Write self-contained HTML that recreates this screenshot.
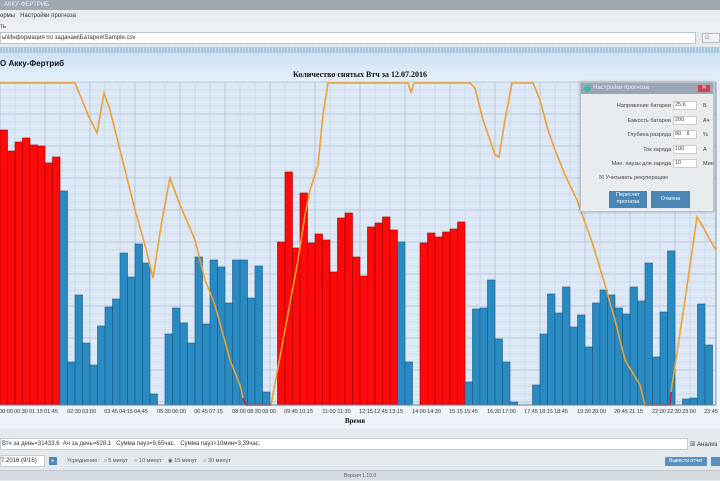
<!DOCTYPE html>
<html><head><meta charset="utf-8">
<style>
*{margin:0;padding:0;box-sizing:border-box}
body{width:720px;height:480px;overflow:hidden;background:#e4e9ee;font-family:"Liberation Sans",sans-serif;font-size:6px;color:#333;position:relative}
.abs{position:absolute}
</style></head><body>
<div class="abs" style="left:0;top:0;width:720px;height:10px;background:#9ea8b0;color:#eef;font-size:6px;line-height:10px;padding-left:4px">АККУ-ФЕРТРИБ</div>
<div class="abs" style="left:0;top:10px;width:720px;height:12px;background:#e9edf0;line-height:12px;padding-left:0">ормы &nbsp;&nbsp;Настройки прогноза</div>
<div class="abs" style="left:0;top:22px;width:720px;height:10px;background:#eef1f4;line-height:10px">ть</div>
<div class="abs" style="left:0;top:32px;width:696px;height:12px;background:#fff;border:1px solid #bcc5cc;line-height:10px;padding-left:1px">ы\Информация по задачам\Батарея\Sample.csv</div>
<div class="abs" style="left:702px;top:33px;width:18px;height:10px;background:#f0f2f4;border:1px solid #bbb;line-height:8px;font-size:7px">&nbsp;⌂</div>
<div class="abs" style="left:0;top:47px;width:720px;height:6px;background:repeating-linear-gradient(90deg,#a9c6df 0 2px,#c5daea 2px 3px)"></div>
<div class="abs" style="left:0;top:53px;width:720px;height:376px;background:linear-gradient(#cfe2f5,#e6f0fa 30px,#eef4fa)"></div>
<div class="abs" style="left:0;top:59px;font-size:8px;font-weight:bold;color:#111">О Акку-Фертриб</div>
<div class="abs" style="left:0;top:70px;width:720px;text-align:center;font-family:'Liberation Serif',serif;font-size:8px;font-weight:bold;color:#111">Количество снятых Втч за 12.07.2016</div>
<svg class="abs" style="left:0;top:0" width="720" height="430" id="ch">
<rect x="0" y="82" width="716" height="323" fill="#dde9f7"/>
<g id="grid"></g>
<g id="bars"></g>
<polyline fill="none" stroke="#f0a030" stroke-width="1.6" points="0,83 75,83 80,95 88,115 97,133 104,93 110,110 120,150 135,210 145,245 153,278 162,220 170,178 180,205 195,240 205,280 215,305 230,360 240,385 243,398"/>
<polyline fill="none" stroke="#f0a030" stroke-width="1.6" points="271,405 285,330 298,260 305,215 310,190 318,165 323,115 328,83 408,83 411,92 414,83 470,83 475,88 483,120 490,140 495,155 499,157 505,120 512,83 533,83 540,100 548,130 555,150 565,175 577,200 593,245 605,285 615,320 625,360 640,385 645,405"/>
<polyline fill="none" stroke="#c02040" stroke-width="1.6" points="243,398 246,405 271,405"/>
<polyline fill="none" stroke="#c02040" stroke-width="1.6" points="645,405 670,405 671,392"/>
<polyline fill="none" stroke="#f0a030" stroke-width="1.6" points="671,392 685,300 697,217 702,225 710,240 716,250"/>
<line x1="716" y1="82" x2="716" y2="405" stroke="#8899aa"/>
<line x1="0" y1="405" x2="716" y2="405" stroke="#6a7a8a"/>
<g font-size="5.5" fill="#333" font-family="Liberation Sans,sans-serif" text-anchor="middle">
<text x="6" y="413">00:00</text><text x="21" y="413">00:30</text>
<text x="36" y="413">01:15</text><text x="51" y="413">01:45</text>
<text x="74" y="413">02:30</text><text x="89" y="413">03:00</text>
<text x="111" y="413">03:45</text><text x="126" y="413">04:15</text><text x="141" y="413">04:45</text>
<text x="164" y="413">05:30</text><text x="179" y="413">06:00</text>
<text x="201" y="413">06:45</text><text x="216" y="413">07:15</text>
<text x="239" y="413">08:00</text><text x="254" y="413">08:30</text><text x="269" y="413">09:00</text>
<text x="291" y="413">09:45</text><text x="306" y="413">10:15</text>
<text x="329" y="413">11:00</text><text x="344" y="413">11:30</text>
<text x="366" y="413">12:15</text><text x="381" y="413">12:45</text><text x="396" y="413">13:15</text>
<text x="419" y="413">14:00</text><text x="434" y="413">14:30</text>
<text x="456" y="413">15:15</text><text x="471" y="413">15:45</text>
<text x="494" y="413">16:30</text><text x="509" y="413">17:00</text>
<text x="531" y="413">17:45</text><text x="546" y="413">18:15</text><text x="561" y="413">18:45</text>
<text x="584" y="413">19:30</text><text x="599" y="413">20:00</text>
<text x="621" y="413">20:45</text><text x="636" y="413">21:15</text>
<text x="659" y="413">22:00</text><text x="674" y="413">22:30</text><text x="689" y="413">23:00</text>
<text x="711" y="413">23:45</text>
</g>
<text x="355" y="423" font-size="7" font-weight="bold" font-family="Liberation Serif,serif" fill="#111" text-anchor="middle">Время</text>
</svg>
<!-- dialog -->
<div class="abs" style="left:580px;top:82px;width:134px;height:130px;background:#e8ecef;border:1px solid #b8c0c8;box-shadow:0 0 3px rgba(0,0,0,.3)">
 <div style="height:11px;background:#9aa6b0;color:#eef;line-height:11px;padding-left:12px;position:relative">Настройки прогноза
  <span style="position:absolute;left:3px;top:2px;width:7px;height:7px;border-radius:50%;background:#3cb8a0"></span>
  <span style="position:absolute;right:3px;top:2px;width:12px;height:7px;background:#d04050;color:#fff;font-size:6px;line-height:7px;text-align:center">✕</span></div>
 <div style="position:relative;font-size:5.5px;color:#444">
  <div class="abs" style="right:42px;top:9px">Напряжение батареи</div><div class="abs" style="left:92px;top:7px;width:24px;height:9px;background:#fff;border:1px solid #ccc;padding-left:1px">25,6</div><div class="abs" style="left:122px;top:9px">В</div>
  <div class="abs" style="right:42px;top:24px">Емкость батареи</div><div class="abs" style="left:92px;top:22px;width:24px;height:9px;background:#fff;border:1px solid #ccc;padding-left:1px">200</div><div class="abs" style="left:122px;top:24px">Ач</div>
  <div class="abs" style="right:42px;top:38px">Глубина разряда</div><div class="abs" style="left:92px;top:36px;width:24px;height:9px;background:#fff;border:1px solid #ccc;padding-left:1px">80 &nbsp;&nbsp;⇕</div><div class="abs" style="left:122px;top:38px">%</div>
  <div class="abs" style="right:42px;top:53px">Ток заряда</div><div class="abs" style="left:92px;top:51px;width:24px;height:9px;background:#fff;border:1px solid #ccc;padding-left:1px">100</div><div class="abs" style="left:122px;top:53px">А</div>
  <div class="abs" style="right:42px;top:67px">Мин. паузы для заряда</div><div class="abs" style="left:92px;top:65px;width:24px;height:9px;background:#fff;border:1px solid #ccc;padding-left:1px">10</div><div class="abs" style="left:122px;top:67px">Мин</div>
  <div class="abs" style="left:18px;top:81px">☒ Учитывать рекуперацию</div>
  <div class="abs" style="left:28px;top:97px;width:38px;height:17px;background:#4a86b8;color:#fff;text-align:center;line-height:7px;padding-top:1px">Пересчет прогноза</div>
  <div class="abs" style="left:70px;top:97px;width:39px;height:17px;background:#4a86b8;color:#fff;text-align:center;line-height:17px">Отмена</div>
 </div>
</div>
<div class="abs" style="left:0;top:429px;width:720px;height:8px;background:#e4e9ee"></div>
<div class="abs" style="left:0;top:438px;width:688px;height:12px;background:#fff;border:1px solid #c5ccd3;line-height:10px;padding-left:1px">Втч за день=31433,6 &nbsp;Ач за день=628,1 &nbsp;&nbsp;Сумма пауз=9,65час. &nbsp;&nbsp;Сумма пауз&gt;10мин=3,39час.</div>
<div class="abs" style="left:690px;top:440px;line-height:10px">☒ Анализ</div>
<div class="abs" style="left:0;top:455px;width:45px;height:12px;background:#fff;border:1px solid #c5ccd3;line-height:10px;font-size:6px">7.2016 (9/16)</div>
<div class="abs" style="left:49px;top:457px;width:8px;height:8px;background:#4a8ac0;color:#fff;font-size:5px;line-height:8px;text-align:center">▸</div>
<div class="abs" style="left:67px;top:457px;line-height:9px;font-size:5.5px;color:#555">Усреднение: &nbsp;&nbsp;○ 5 минут &nbsp;&nbsp;&nbsp;○ 10 минут &nbsp;&nbsp;&nbsp;◉ 15 минут &nbsp;&nbsp;&nbsp;○ 30 минут</div>
<div class="abs" style="left:665px;top:457px;width:42px;height:9px;background:#5a90bf;color:#fff;font-size:5px;line-height:9px;text-align:center;border-radius:1px">Вывести отчет</div>
<div class="abs" style="left:711px;top:457px;width:12px;height:9px;background:#5a90bf"></div>
<div class="abs" style="left:0;top:470px;width:720px;height:10px;background:#d5dbe0;border-top:1px solid #c0c7ce;text-align:center;line-height:10px;font-size:5px;color:#555">Версия 1.10.0</div>
<script>
var ns="http://www.w3.org/2000/svg",g=document.getElementById('grid'),b=document.getElementById('bars');
function el(p,t,a){var e=document.createElementNS(ns,t);for(var k in a)e.setAttribute(k,a[k]);p.appendChild(e);}
for(var y=82;y<=405;y+=8)el(g,'line',{x1:0,x2:716,y1:y,y2:y,stroke:((y-82)%32==0)?'#a8b8cc':'#c8d6e6','stroke-width':0.7});
for(var x=0;x<716;x+=15)el(g,'line',{x1:x,x2:x,y1:82,y2:405,stroke:((x/15)%3==0)?'#a8b8cc':'#c4d2e2','stroke-width':0.7});
var t=[130,151,142,138,145,146,163,157,191,362,295,343,365,326,307,299,253,277,244,263,394,0,334,308,323,343,257,324,260,267,303,260,260,298,266,392,0,242,172,248,193,243,234,240,272,218,213,257,276,227,223,217,230,242,362,0,243,233,237,232,229,222,382,309,308,280,339,362,402,0,0,385,334,294,313,287,327,315,347,303,290,295,308,314,287,301,263,357,312,251,0,399,398,304,345];
for(var i=0;i<t.length;i++){if(!t[i])continue;var red=(i<=7)||(i>=37&&i<=52)||(i>=56&&i<=61);
el(b,'rect',{x:i*7.5,y:t[i],width:7.5,height:405-t[i],fill:red?'#ff0a0a':'#2a8bc2',stroke:red?'#a00000':'#1a5a84','stroke-width':0.6});}
</script>
</body></html>
